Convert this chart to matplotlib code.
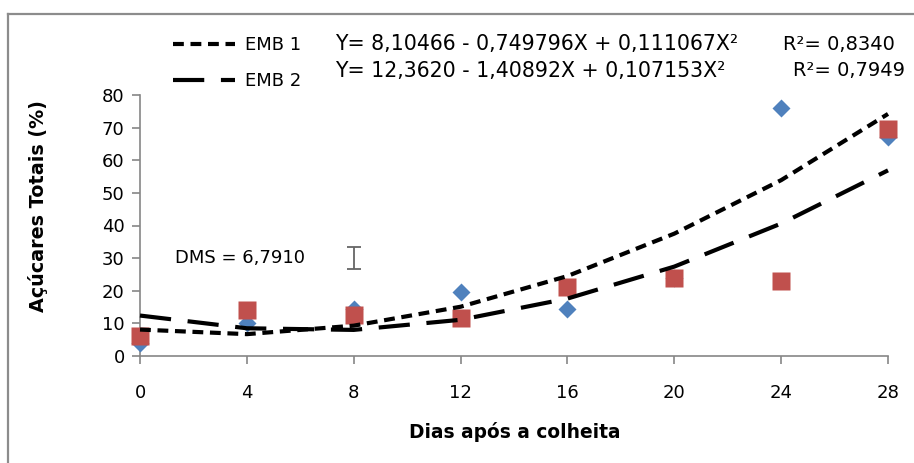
import matplotlib.pyplot as plt
from matplotlib.lines import Line2D

dias = [0, 4, 8, 12, 16, 20, 24, 28]

# observed values
emb1 = [4, 10, 14.5, 19.5, 14.5, 24, 76, 67]
emb2 = [6, 14, 12.5, 11.5, 21, 24, 23, 69.5]

# fitted curves
emb1_fit = [8.1, 6.7, 9.3, 15.1, 24.5, 37.5, 53.9, 74.2]
emb2_fit = [12.4, 8.5, 8.0, 11.1, 17.6, 27.4, 40.6, 56.9]

eq1 = "Y= 8,10466 - 0,749796X + 0,111067X²"
eq2 = "Y= 12,3620 - 1,40892X + 0,107153X²"
r2_1 = "R²= 0,8340"
r2_2 = "R²= 0,7949"
dms = 6.7910

plt.rcParams['font.family'] = ['DejaVu Sans']

W, H = 914, 463
fig = plt.figure(figsize=(W / 100, H / 100), dpi=100)
ax = fig.add_axes([140 / W, 1 - 356 / H, (888 - 140) / W, (356 - 95) / H])

gray = '#868686'

ax.plot(dias, emb1, 'D', color='#4F81BD', ms=9, mec='none', clip_on=False, zorder=3)
ax.plot(dias, emb2, 's', color='#C0504D', ms=12.5, mec='none', clip_on=False, zorder=4)
l1, = ax.plot(dias, emb1_fit, color='black', lw=3, dashes=(2.6, 1.6), clip_on=False, zorder=5)
l2, = ax.plot(dias, emb2_fit, color='black', lw=3, dashes=(7.5, 4), clip_on=False, zorder=5)

# DMS bar
ax.errorbar([8], [30], yerr=dms / 2, color='#666666', capsize=5, elinewidth=1.3, capthick=1.3)
ax.text(1.3, 30, "DMS = 6,7910", fontsize=13, va='center', ha='left')

ax.set_xlim(0, 28)
ax.set_ylim(0, 80)
ax.set_xticks(dias)
ax.set_yticks(range(0, 81, 10))
for s in ['top', 'right']:
    ax.spines[s].set_visible(False)
for s in ['left', 'bottom']:
    ax.spines[s].set_color(gray)
    ax.spines[s].set_linewidth(1.2)
ax.tick_params(axis='x', direction='out', length=6, width=1.2, color=gray, pad=14, labelsize=13)
ax.tick_params(axis='y', direction='out', length=6, width=1.2, color=gray, pad=5, labelsize=13)

fig.text(38 / W, 1 - 206 / H, "Açúcares Totais (%)", rotation=90, fontsize=13.8,
         fontweight='bold', ha='center', va='center')
fig.text(515 / W, 1 - 432 / H, "Dias após a colheita", fontsize=13.4,
         fontweight='bold', ha='center', va='center')

fig.legend([l1, l2], ["EMB 1", "EMB 2"], loc='upper left',
           bbox_to_anchor=(157 / W, 1 - 20 / H), frameon=False, fontsize=13,
           handlelength=3.4, handletextpad=0.6, labelspacing=1.0)

fig.text(335 / W, 1 - 44 / H, eq1, fontsize=14.8, va='center')
fig.text(335 / W, 1 - 71 / H, eq2, fontsize=14.8, va='center')
fig.text(783 / W, 1 - 44 / H, r2_1, fontsize=14, va='center')
fig.text(793 / W, 1 - 71 / H, r2_2, fontsize=14, va='center')

# outer frame (left and top only visible)
fig.add_artist(Line2D([8 / W, 8 / W], [0, 1 - 14 / H], color='#8c8c8c', lw=1.6))
fig.add_artist(Line2D([8 / W, 1], [1 - 14 / H, 1 - 14 / H], color='#8c8c8c', lw=1.6))

fig.savefig('out.png', dpi=100)
